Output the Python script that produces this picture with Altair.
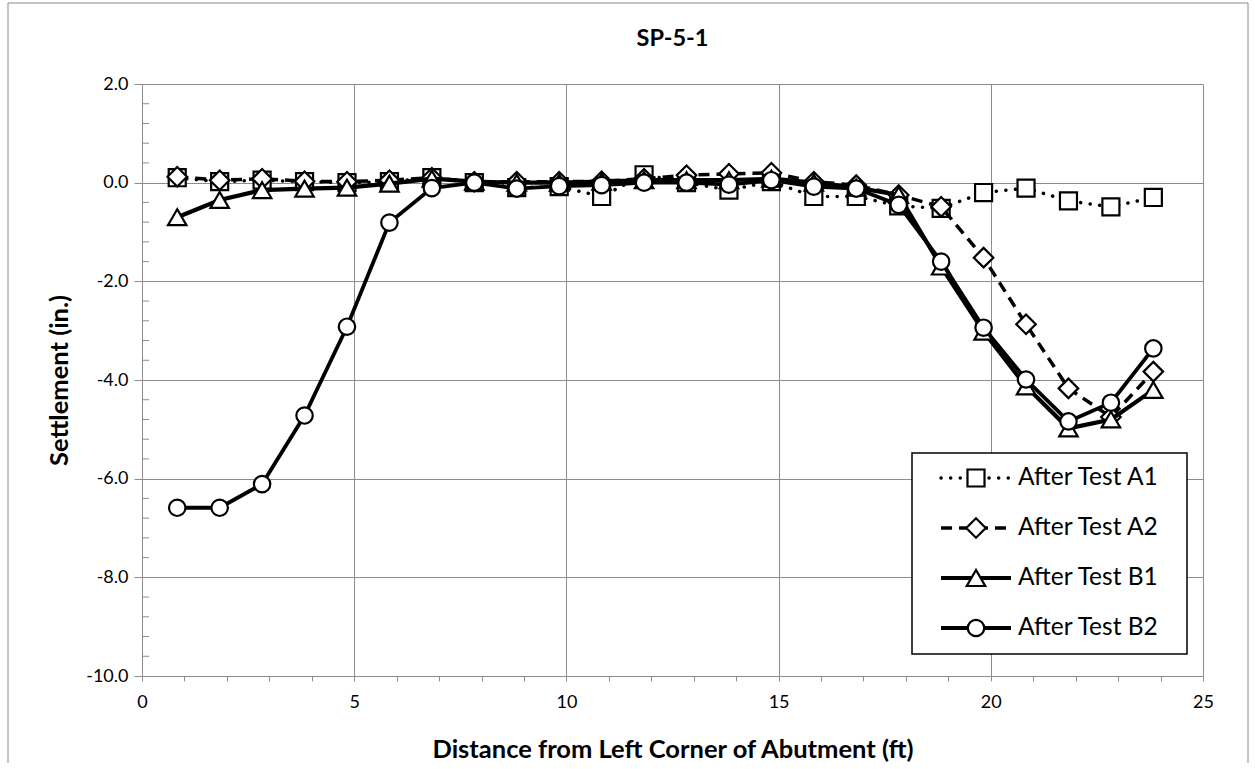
import altair as alt
import pandas as pd

# ---------------- data ----------------
distance_ft = [0.83, 1.83, 2.83, 3.83, 4.83, 5.83, 6.83, 7.83, 8.83, 9.83, 10.83, 11.83,
               12.83, 13.83, 14.83, 15.83, 16.83, 17.83, 18.83, 19.83, 20.83, 21.83, 22.83, 23.83]

after_a1 = [0.10, 0.02, 0.05, 0.02, 0.00, 0.02, 0.10, 0.00, -0.10, -0.08, -0.28, 0.16,
            0.00, -0.15, 0.02, -0.28, -0.28, -0.47, -0.52, -0.20, -0.11, -0.37, -0.49, -0.30]
after_a2 = [0.12, 0.05, 0.08, 0.03, 0.02, 0.05, 0.10, 0.02, 0.02, 0.02, 0.03, 0.08,
            0.15, 0.18, 0.20, 0.02, -0.05, -0.25, -0.49, -1.52, -2.87, -4.17, -4.75, -3.83]
after_b1 = [-0.70, -0.35, -0.15, -0.12, -0.10, -0.02, 0.08, 0.02, 0.00, 0.00, 0.02, 0.05,
            0.05, 0.05, 0.08, 0.00, -0.10, -0.25, -1.70, -3.02, -4.13, -4.98, -4.80, -4.20]
after_b2 = [-6.59, -6.59, -6.11, -4.72, -2.92, -0.81, -0.11, 0.00, -0.12, -0.07, -0.05, 0.00,
            0.00, -0.04, 0.05, -0.08, -0.12, -0.45, -1.60, -2.94, -3.99, -4.84, -4.46, -3.36]

series_names = ["After Test A1", "After Test A2", "After Test B1", "After Test B2"]
series_values = [after_a1, after_a2, after_b1, after_b2]
chart_title = ["SP-5-1"]

x_tick_values = [0, 1, 2, 3, 4, 5, 6, 7, 8, 9, 10, 11, 12, 13, 14, 15, 16, 17, 18, 19, 20, 21, 22, 23, 24, 25]
y_major_ticks = [-10, -8, -6, -4, -2, 0, 2]
y_minor_ticks = [-9.6, -9.2, -8.8, -8.4, -7.6, -7.2, -6.8, -6.4, -5.6, -5.2, -4.8, -4.4,
                 -3.6, -3.2, -2.8, -2.4, -1.6, -1.2, -0.8, -0.4, 0.4, 0.8, 1.2, 1.6]

rows = []
for name, vals in zip(series_names, series_values):
    for xv, yv in zip(distance_ft, vals):
        rows.append({"x": xv, "y": yv, "series": name})
df = pd.DataFrame(rows)
legend_df = pd.DataFrame({"series": series_names})
minor_df = pd.DataFrame({"y": y_minor_ticks})
title_df = pd.DataFrame({"title": chart_title})

# ---------------- styling ----------------
FONT = "Lato"
GRAY = "#8c8c8c"
W, H = 1061, 592

xscale = alt.Scale(domain=[0, 25], nice=False, zero=False)
yscale = alt.Scale(domain=[-10, 2], nice=False, zero=False)

x_axis = alt.Axis(
    values=x_tick_values,
    labelExpr="datum.value % 5 == 0 ? datum.label : ''",
    labelFlush=False,
    grid=True,
    gridOpacity={"condition": {"test": "datum.value % 5 == 0", "value": 1}, "value": 0},
    tickSize=5,
    labelPadding=12,
    title="Distance from Left Corner of Abutment (ft)",
    titlePadding=26,
)
y_axis = alt.Axis(
    values=y_major_ticks,
    format=".1f",
    labelExpr="replace(datum.label, '\u2212', '-')",
    grid=True,
    tickSize=8,
    labelPadding=6,
    title="Settlement (in.)",
    titlePadding=13,
)

X = alt.X("x:Q", scale=xscale, axis=x_axis)
Y = alt.Y("y:Q", scale=yscale, axis=y_axis)
X2 = alt.X("x:Q", scale=xscale)
Y2 = alt.Y("y:Q", scale=yscale)

layers = []

# minor y ticks (inside the plot)
layers.append(
    alt.Chart(minor_df).mark_rule(color=GRAY, strokeWidth=1).encode(
        y=Y, x=alt.value(0), x2=alt.value(7)
    )
)

line_styles = {
    "After Test A1": dict(strokeWidth=3.5, strokeDash=[0.1, 9.5], strokeCap="round"),
    "After Test A2": dict(strokeWidth=3.5, strokeDash=[11, 7]),
    "After Test B1": dict(strokeWidth=4.2),
    "After Test B2": dict(strokeWidth=3.8),
}
marker_styles = {
    "After Test A1": dict(shape="square", size=290),
    "After Test A2": dict(shape="diamond", size=380),
    "After Test B1": dict(shape="triangle-up", size=340),
    "After Test B2": dict(shape="circle", size=270),
}

for k, name in enumerate(series_names):
    sub = alt.Chart(df).transform_filter(alt.datum.series == name)
    layers.append(sub.mark_line(color="black", **line_styles[name]).encode(
        x=X if k == 0 else X2, y=Y2))
    layers.append(
        sub.mark_point(filled=True, fill="white", stroke="black", strokeWidth=2.2,
                       opacity=1, **marker_styles[name]).encode(x=X2, y=Y2)
    )

# ---------------- legend (manual) ----------------
LEG_X0, LEG_X1, LEG_Y0, LEG_Y1 = 770, 1045, 369, 570
layers.append(
    alt.Chart(legend_df).transform_filter(alt.datum.series == series_names[0]).mark_rect(
        fill="white", stroke="black", strokeWidth=1.5
    ).encode(x=alt.value(LEG_X0), x2=alt.value(LEG_X1), y=alt.value(LEG_Y0), y2=alt.value(LEG_Y1))
)
for i, name in enumerate(series_names):
    ly = 394 + 50 * i
    ent = alt.Chart(legend_df).transform_filter(alt.datum.series == name)
    layers.append(ent.mark_rule(color="black", **line_styles[name]).encode(
        x=alt.value(799), x2=alt.value(869), y=alt.value(ly)))
    layers.append(ent.mark_point(filled=True, fill="white", stroke="black", strokeWidth=2.2,
                                 opacity=1, **marker_styles[name]).encode(
        x=alt.value(834), y=alt.value(ly)))
    layers.append(ent.mark_text(align="left", baseline="middle", font=FONT, fontSize=24.5,
                                color="black").encode(
        x=alt.value(876), y=alt.value(ly), text="series:N"))

# ---------------- title (as text mark, centred over plot) ----------------
layers.append(alt.Chart(title_df).mark_text(
    align="center", baseline="middle", font=FONT, fontSize=23.5, fontWeight="bold", color="black"
).encode(x=alt.value(W / 2), y=alt.value(-45), text="title:N"))

# ---------------- outer frame ----------------
frame = alt.Chart(legend_df).transform_filter(alt.datum.series == series_names[0])
layers.append(frame.mark_rule(color="#8a8a8a", strokeWidth=1).encode(
    x=alt.value(-134), y=alt.value(-81), y2=alt.value(679)))
layers.append(frame.mark_rule(color="#8a8a8a", strokeWidth=1).encode(
    x=alt.value(-134), x2=alt.value(1106), y=alt.value(-81)))
layers.append(frame.mark_rule(color="#8a8a8a", strokeWidth=1).encode(
    x=alt.value(1106), y=alt.value(-81), y2=alt.value(679)))

chart = alt.layer(*layers).properties(
    width=W,
    height=H,
    padding={"left": 7, "top": 2, "right": 0, "bottom": 0},
    background="white",
).configure_axis(
    labelFont=FONT, titleFont=FONT, labelFontSize=18, titleFontSize=25.5,
    titleFontWeight="bold", labelColor="black", titleColor="black",
    domainColor=GRAY, tickColor=GRAY, gridColor=GRAY,
    domainWidth=1, tickWidth=1, gridWidth=1,
).configure_view(stroke="transparent")

chart.save("out.html", embed_options={"renderer": "svg", "actions": False})
